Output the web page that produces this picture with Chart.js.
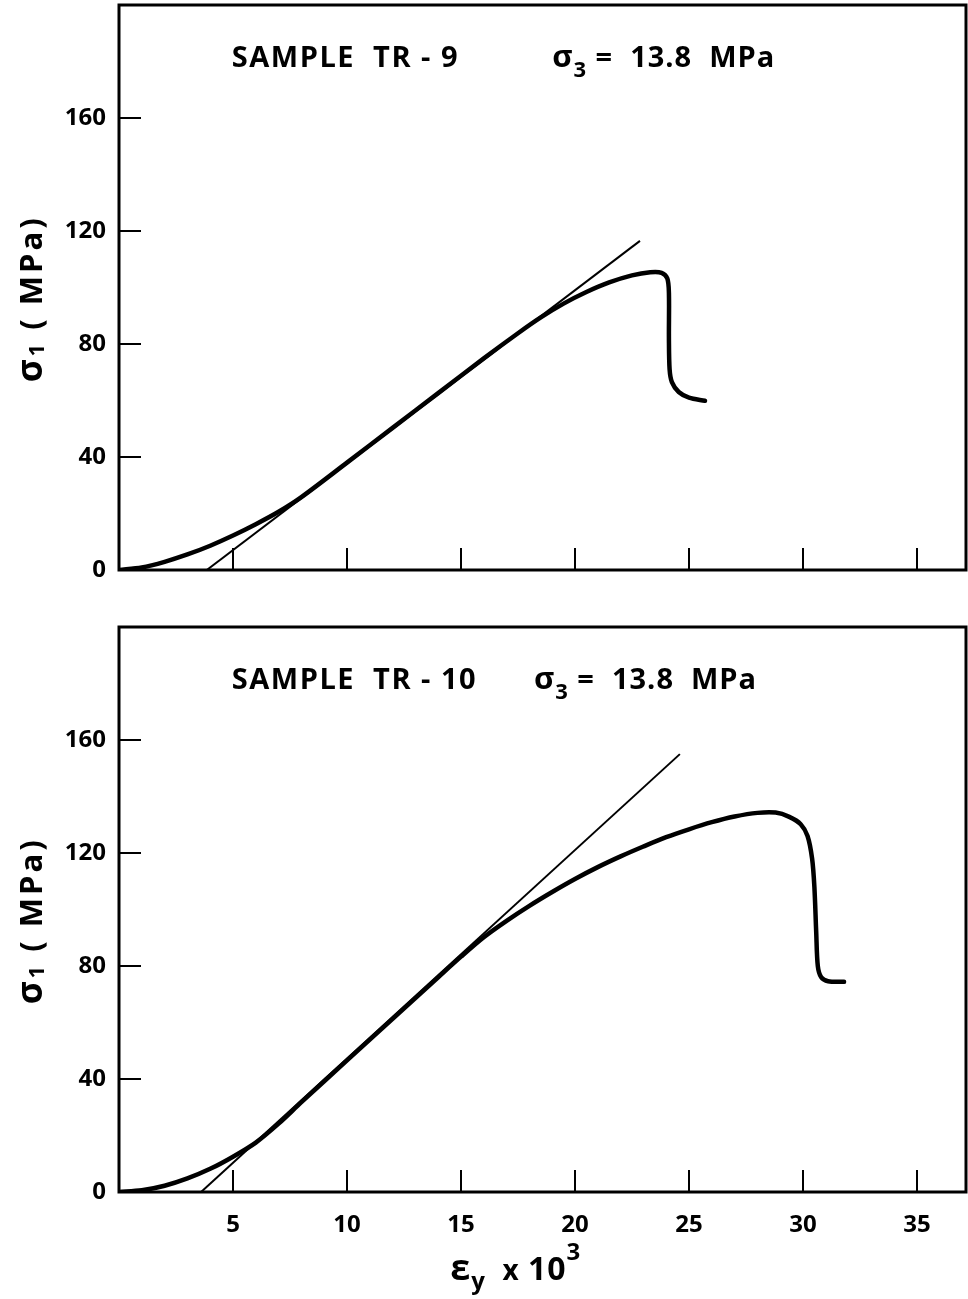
<!DOCTYPE html>
<html>
<head>
<meta charset="utf-8">
<title>Sample TR-9 / TR-10</title>
<script src="https://cdn.jsdelivr.net/npm/chart.js@4.4.1/dist/chart.umd.min.js"></script>
<style>
  html, body { margin: 0; padding: 0; background: #fff; }
  body { width: 968px; height: 1299px; position: relative; overflow: hidden; }
  canvas { position: absolute; left: 0; }
  #chartTop { top: 0; }
  #chartBottom { top: 600px; }
</style>
</head>
<body>
<canvas id="chartTop" width="968" height="600"></canvas>
<canvas id="chartBottom" width="968" height="699"></canvas>
<script>
// strain (eps_y x 10^3) vs axial stress sigma_1 (MPa)

// sample TR-9
const tr9Strain = [0, 1, 2, 3, 4, 5, 6, 7, 8, 10, 12, 14, 16, 17.5, 18.5, 19.5, 20.5, 21.5, 22.5, 23.3, 23.8, 24.05, 24.12, 24.12, 24.15, 24.25, 24.55, 25.0, 25.7];
const tr9Stress = [0, 0.9, 2.9, 5.5, 8.6, 12.2, 16.2, 20.6, 25.8, 38.0, 50.3, 62.6, 74.9, 83.8, 89.4, 94.3, 98.4, 101.8, 104.3, 105.4, 105.2, 103.2, 98, 82, 71, 66.5, 63, 61, 59.9];
const tr9TangentStrain = [3.85, 22.85];
const tr9TangentStress = [0, 116.5];

// sample TR-10
const tr10Strain = [0, 1, 2, 3, 4, 5, 6, 7, 8, 10, 12, 14, 15, 16, 17, 18, 19, 20, 21, 22, 23, 24, 25, 26, 27, 28, 28.8, 29.4, 29.9, 30.2, 30.4, 30.5, 30.58, 30.65, 30.8, 31.1, 31.8];
const tr10Stress = [0, 0.6, 2.2, 4.8, 8.2, 12.5, 17.5, 24.2, 31.8, 46.6, 61.3, 76.0, 83.3, 90.2, 96.0, 101.3, 106.2, 110.8, 115.0, 118.8, 122.3, 125.6, 128.4, 130.9, 132.9, 134.2, 134.3, 132.8, 130.2, 126, 118, 108, 92, 80, 76, 74.6, 74.4];
const tr10TangentStrain = [3.6, 24.6];
const tr10TangentStress = [0, 155];

// axes
const strainTicks = [5, 10, 15, 20, 25, 30, 35];
const stressTicks = [0, 40, 80, 120, 160];
const strainMax = 37.15;
const stressMax = 200;

const confining = '13.8';

const FONT = '"Open Sans", "DejaVu Sans", sans-serif';
const font = (size, weight) => `${weight || 700} ${size}px ${FONT}`;

const toPoints = (xs, ys) => xs.map((x, i) => ({ x, y: ys[i] }));

// draws pieces [text, size, dy] one after another, returns end x
function drawRun(ctx, pieces, x, y, spacing) {
  pieces.forEach(([text, size, dy]) => {
    ctx.font = font(size);
    ctx.letterSpacing = spacing + 'px';
    ctx.fillText(text, x, y + (dy || 0));
    x += ctx.measureText(text).width;
  });
  return x;
}

function runWidth(ctx, pieces, spacing) {
  let w = 0;
  pieces.forEach(([text, size]) => {
    ctx.font = font(size);
    ctx.letterSpacing = spacing + 'px';
    w += ctx.measureText(text).width;
  });
  return w;
}

// box round the plot and the inward tick marks
const framePlugin = {
  id: 'frame',
  afterDraw(chart) {
    const { ctx, chartArea: a, scales: { x, y } } = chart;
    ctx.save();
    ctx.strokeStyle = '#000';
    ctx.lineWidth = 3;
    ctx.strokeRect(a.left, a.top, a.right - a.left, a.bottom - a.top);
    ctx.lineWidth = 2;
    ctx.beginPath();
    strainTicks.forEach(v => {
      const px = Math.round(x.getPixelForValue(v));
      ctx.moveTo(px, a.bottom);
      ctx.lineTo(px, a.bottom - 22);
    });
    stressTicks.forEach(v => {
      if (v === 0) return;
      const py = Math.round(y.getPixelForValue(v));
      ctx.moveTo(a.left, py);
      ctx.lineTo(a.left + 22, py);
    });
    ctx.stroke();
    ctx.restore();
  }
};

function labelsPlugin(sample, sigmaAt, withStrainTitle) {
  return {
    id: 'labels',
    afterDraw(chart) {
      const { ctx, chartArea: a, scales: { x, y } } = chart;
      ctx.save();
      ctx.fillStyle = '#000';
      ctx.textAlign = 'left';
      ctx.textBaseline = 'alphabetic';

      // panel heading
      const base = y.getPixelForValue(178);
      drawRun(ctx, [['SAMPLE  TR - ' + sample, 29]], x.getPixelForValue(4.95), base, 1.5);
      drawRun(ctx, [['σ', 31], ['3', 22, 10], [' =  ' + confining + '  MPa', 29]], x.getPixelForValue(sigmaAt), base, 1);

      // sigma_1 axis title, rotated
      const yPieces = [['σ', 35], ['1', 22, 2], [' ( MPa)', 31]];
      ctx.translate(a.left - 77, y.getPixelForValue(96));
      ctx.rotate(-Math.PI / 2);
      const w = runWidth(ctx, yPieces, 3);
      drawRun(ctx, yPieces, -w / 2, 0, 3);
      ctx.setTransform(1, 0, 0, 1, 0, 0);

      if (withStrainTitle) {
        const xPieces = [['ε', 36], ['y', 24, 9], ['  x ', 28], ['10', 32], ['3', 24, -20]];
        const xw = runWidth(ctx, xPieces, 1);
        drawRun(ctx, xPieces, x.getPixelForValue(17.4) - xw / 2, a.bottom + 88, 1);
      }
      ctx.restore();
    }
  };
}

function makePanel(id, strain, stress, tanStrain, tanStress, sample, sigmaAt, opts) {
  return new Chart(document.getElementById(id), {
    type: 'scatter',
    data: {
      datasets: [
        {
          data: toPoints(strain, stress),
          showLine: true,
          borderColor: '#000',
          borderWidth: 4.5,
          pointRadius: 0,
          tension: 0.3,
          borderCapStyle: 'round',
          borderJoinStyle: 'round'
        },
        {
          data: toPoints(tanStrain, tanStress),
          showLine: true,
          borderColor: '#000',
          borderWidth: 2,
          pointRadius: 0,
          tension: 0
        }
      ]
    },
    options: {
      responsive: false,
      animation: false,
      events: [],
      layout: { padding: { top: opts.top, right: 2, left: 0, bottom: 0 } },
      plugins: { legend: { display: false }, tooltip: { enabled: false } },
      scales: {
        x: {
          type: 'linear',
          min: 0,
          max: strainMax,
          afterBuildTicks: s => { s.ticks = strainTicks.map(v => ({ value: v })); },
          afterFit: s => { s.height = opts.xHeight; s.paddingLeft = 0; s.paddingRight = 0; },
          grid: { display: false },
          border: { display: false },
          ticks: {
            display: opts.xLabels,
            color: '#000',
            padding: 11,
            maxRotation: 0,
            font: { family: FONT, size: 24, weight: 700 }
          }
        },
        y: {
          min: 0,
          max: stressMax,
          afterBuildTicks: s => { s.ticks = stressTicks.map(v => ({ value: v })); },
          afterFit: s => { s.width = 119; s.paddingTop = 0; s.paddingBottom = 0; },
          grid: { display: false },
          border: { display: false },
          ticks: {
            color: '#000',
            padding: 5,
            font: { family: FONT, size: 24, weight: 700 }
          }
        }
      }
    },
    plugins: [framePlugin, labelsPlugin(sample, sigmaAt, opts.xLabels)]
  });
}

makePanel('chartTop', tr9Strain, tr9Stress, tr9TangentStrain, tr9TangentStress, '9', 19.0,
  { top: 5, xHeight: 30, xLabels: false });
makePanel('chartBottom', tr10Strain, tr10Stress, tr10TangentStrain, tr10TangentStress, '10', 18.2,
  { top: 27, xHeight: 107, xLabels: true });
</script>
</body>
</html>
